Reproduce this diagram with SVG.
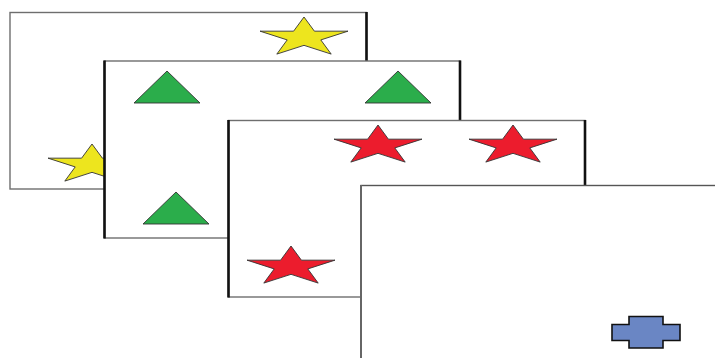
<svg xmlns="http://www.w3.org/2000/svg" width="715" height="358" viewBox="0 0 715 358">
<style>
.frame{fill:#fff;stroke:#6e6e6e;stroke-width:1.4}
.edge{stroke:#111;stroke-width:2.6;fill:none}
.ystar{fill:#ede51e;stroke:#333;stroke-width:0.9}
.rstar{fill:#ec1c2d;stroke:#333;stroke-width:0.9}
.tri{fill:#2bad4b;stroke:#333;stroke-width:0.9}
.cross{fill:#6a86c4;stroke:#111;stroke-width:1.6}
</style>
<defs>
<path id="star" d="M0,-20.5 L10.4,-6.33 L44,-6.33 L16.8,2.42 L27.2,16.6 L0,7.83 L-27.2,16.6 L-16.8,2.42 L-44,-6.33 L-10.4,-6.33 Z"/>
<path id="tri" d="M0,0 L33,32 L-33,32 Z"/>
</defs>
<rect width="715" height="358" fill="#fff"/>
<g id="frame1">
<rect class="frame" x="10" y="12.5" width="356.5" height="176.5"/>
<line class="edge" x1="366.5" y1="12" x2="366.5" y2="61"/>
<use href="#star" class="ystar" x="304" y="37.5"/>
<use href="#star" class="ystar" x="92" y="164.5"/>
</g>
<g id="frame2">
<rect class="frame" x="104.5" y="61" width="355.5" height="177"/>
<line class="edge" x1="104.5" y1="60.5" x2="104.5" y2="238.5"/>
<line class="edge" x1="460" y1="60.5" x2="460" y2="120"/>
<use href="#tri" class="tri" x="167" y="71"/>
<use href="#tri" class="tri" x="398" y="71"/>
<use href="#tri" class="tri" x="176" y="192"/>
</g>
<g id="frame3">
<rect class="frame" x="228.5" y="120.5" width="356.5" height="176.5"/>
<line class="edge" x1="228.5" y1="120" x2="228.5" y2="297.5"/>
<line class="edge" x1="585" y1="120" x2="585" y2="185"/>
<use href="#star" class="rstar" x="378" y="145.5"/>
<use href="#star" class="rstar" x="513" y="145.5"/>
<use href="#star" class="rstar" x="291" y="266.5"/>
</g>
<g id="frame4">
<rect x="361" y="185.5" width="360" height="180" fill="#fff" stroke="#555" stroke-width="1.4"/>
<line x1="361" y1="185" x2="361" y2="358" stroke="#666" stroke-width="2"/>
<path class="cross" d="M629,316.5 H663 V324.5 H680 V340.5 H663 V348 H629 V340.5 H612 V324.5 H629 Z"/>
</g>
<g id="connectors"></g>
</svg>
